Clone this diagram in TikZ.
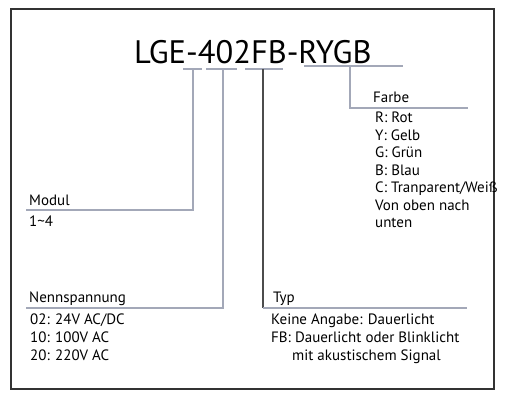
\documentclass[tikz,border=0pt]{standalone}
\usepackage{fontspec}
\setmainfont{PT Sans}
\begin{document}
\begin{tikzpicture}[x=1pt,y=-1pt,
  leader/.style={draw=lead, line width=1.2pt},
  darkleader/.style={draw=black!70, line width=1.2pt},
  lbl/.style={anchor=base west, inner sep=0pt, font=\fontsize{15}{17}\selectfont},
  title/.style={anchor=base west, inner sep=0pt, font=\fontsize{32.5}{36}\selectfont}]
\definecolor{lead}{HTML}{A3A8B8}
\useasboundingbox (0,0) rectangle (509,395);
\fill[white] (0,0) rectangle (509,395);
\draw[black!80, line width=1.6pt] (11,9) rectangle (494,389);
% title
\node[title] (t) at (134,64) {LGE-402FB-RYGB};
% underline segments
\coordinate (u1a) at (183,69); \coordinate (u1b) at (202,69);
\coordinate (u2a) at (206,69); \coordinate (u2b) at (237,69);
\coordinate (u3a) at (245,69); \coordinate (u3b) at (283,69);
\coordinate (u4a) at (304,66); \coordinate (u4b) at (403,66);
\draw[leader] (u1a) -- (u1b);
\draw[leader] (u2a) -- (u2b);
\draw[leader] (u3a) -- (u3b);
\draw[leader] (u4a) -- (u4b);
% corner points
\coordinate (m1) at (193,69);  \coordinate (m2) at (193,210); \coordinate (m3) at (26,210);
\coordinate (n1) at (223,69);  \coordinate (n2) at (223,308); \coordinate (n3) at (26,308);
\coordinate (p1) at (263,69);  \coordinate (p2) at (263,308); \coordinate (p3) at (467,308);
\coordinate (f1) at (350,66);  \coordinate (f2) at (350,108); \coordinate (f3) at (468,108);
\draw[leader] (m1) -- (m2) -- (m3);
\draw[leader] (n1) -- (n2) -- (n3);
\draw[darkleader] (p1) -- (p2);
\draw[leader] (p2) -- (p3);
\draw[leader] (f1) -- (f2) -- (f3);
% Farbe
\node[lbl] (farbe) at (373,103) {Farbe};
\node[lbl] (fr) at (375,123) {R: Rot};
\node[lbl] (fy) at (375,140.5) {Y: Gelb};
\node[lbl] (fg) at (375,158) {G: Grün};
\node[lbl] (fb) at (375,175.5) {B: Blau};
\node[lbl] (fc) at (375,193) {C: Tranparent/Weiß};
\node[lbl] (fv) at (375,210.5) {Von oben nach};
\node[lbl] (fu) at (375,228) {unten};
% Modul
\node[lbl] (modul) at (29,206) {Modul};
\node[lbl] (mv) at (29,227) {1\textasciitilde4};
% Nennspannung
\node[lbl] (nenn) at (29,303) {Nennspannung};
\node[lbl] (n02) at (30,325) {02: 24V AC/DC};
\node[lbl] (n10) at (30,343) {10: 100V AC};
\node[lbl] (n20) at (30,361) {20: 220V AC};
% Typ
\node[lbl] (typ) at (273,303) {Typ};
\node[lbl] (k1) at (271,325) {Keine Angabe: Dauerlicht};
\node[lbl] (k2) at (271,343) {FB: Dauerlicht oder Blinklicht};
\node[lbl] (k3) at (292,361) {mit akustischem Signal};
\end{tikzpicture}
\end{document}
